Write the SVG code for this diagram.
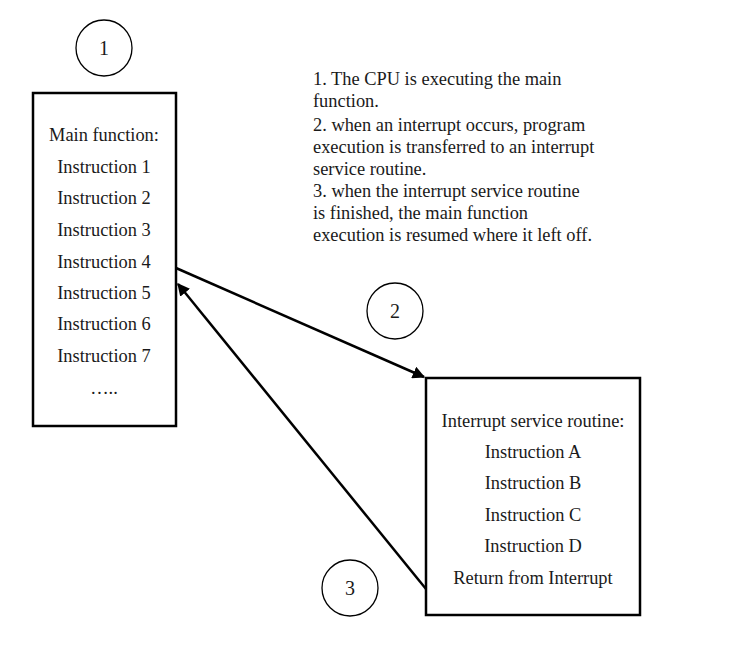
<svg xmlns="http://www.w3.org/2000/svg" width="751" height="648" viewBox="0 0 751 648">
<defs>
<style>
text{font-family:"Liberation Serif","Times New Roman",serif;font-size:18.4px;fill:#1a1a1a}
.c{text-anchor:middle}
.n{font-size:20px}
.box{fill:#fff;stroke:#000;stroke-width:2.5}
.circ{fill:#fff;stroke:#000;stroke-width:1.3}
.edge{stroke:#000;stroke-width:2.5;fill:none}
</style>
<marker id="ah" viewBox="0 0 10 10" refX="9" refY="5" markerWidth="5" markerHeight="5" orient="auto" markerUnits="strokeWidth">
<path d="M0,0 L10,5 L0,10 z" fill="#000"/>
</marker>
</defs>
<rect width="751" height="648" fill="#fff"/>
<g id="main">
<rect class="box" x="33" y="93" width="143" height="333"/>
<text class="c" x="104" y="141">Main function:</text>
<text class="c" x="104" y="173">Instruction 1</text>
<text class="c" x="104" y="204">Instruction 2</text>
<text class="c" x="104" y="236">Instruction 3</text>
<text class="c" x="104" y="268">Instruction 4</text>
<text class="c" x="104" y="299">Instruction 5</text>
<text class="c" x="104" y="330">Instruction 6</text>
<text class="c" x="104" y="362">Instruction 7</text>
<text class="c" x="104" y="394">…..</text>
</g>
<g id="isr">
<rect class="box" x="426" y="378" width="214" height="237"/>
<text class="c" x="533" y="427">Interrupt service routine:</text>
<text class="c" x="533" y="458">Instruction A</text>
<text class="c" x="533" y="489">Instruction B</text>
<text class="c" x="533" y="521">Instruction C</text>
<text class="c" x="533" y="552">Instruction D</text>
<text class="c" x="533" y="584">Return from Interrupt</text>
</g>
<g id="step1">
<circle class="circ" cx="104" cy="48" r="28"/>
<text class="c n" x="104" y="55">1</text>
</g>
<g id="step2">
<circle class="circ" cx="395" cy="311" r="28"/>
<text class="c n" x="395" y="318">2</text>
</g>
<g id="step3">
<circle class="circ" cx="350" cy="588" r="28"/>
<text class="c n" x="350" y="595">3</text>
</g>
<g id="notes">
<text x="313" y="85">1. The CPU is executing the main</text>
<text x="313" y="107">function.</text>
<text x="313" y="131">2. when an interrupt occurs, program</text>
<text x="313" y="153">execution is transferred to an interrupt</text>
<text x="313" y="175">service routine.</text>
<text x="313" y="197">3. when the interrupt service routine</text>
<text x="313" y="219">is finished, the main function</text>
<text x="313" y="241">execution is resumed where it left off.</text>
</g>
<g id="connectors">
<line class="edge" x1="176" y1="268" x2="424" y2="377" marker-end="url(#ah)"/>
<line class="edge" x1="426" y1="589" x2="178" y2="284" marker-end="url(#ah)"/>
</g>
</svg>
